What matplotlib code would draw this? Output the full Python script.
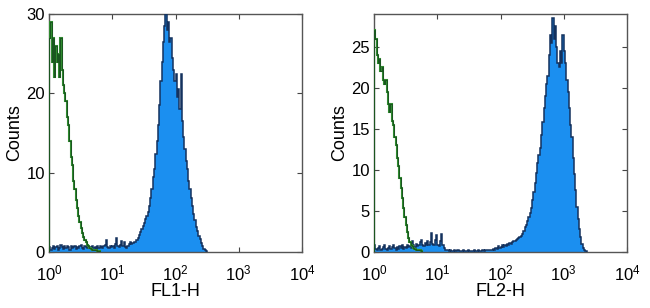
import numpy as np
import matplotlib
matplotlib.use("Agg")
import matplotlib.pyplot as plt
from matplotlib.ticker import LogFormatterSciNotation, NullLocator

plt.rcParams['font.family'] = ['Liberation Sans', 'DejaVu Sans']
plt.rcParams['mathtext.fontset'] = 'custom'
plt.rcParams['mathtext.rm'] = 'Liberation Sans'
plt.rcParams['mathtext.it'] = 'Liberation Sans'

# channel width in log10 units; every series starts at 10^0
log_step = 0.02

# ---- FL1-H panel ----
fl1_control = [27, 29, 24, 27, 22, 26, 24, 25, 22, 27,
               23, 21, 20, 19, 17, 16, 14, 12, 11, 9,
               8, 6.5, 5.5, 4.5, 3.8, 3.0, 2.4, 1.9, 1.5, 1.2,
               0.9, 0.7, 0.5, 0.4, 0.3, 0.3, 0.2, 0.2, 0.1, 0.1]
fl1_stained = [0.6, 0.3, 0.5, 0.8, 0.4, 0.6, 0.7, 0.3, 0.5, 0.9,
               0.6, 0.4, 0.7, 0.5, 0.8, 0.6, 0.3, 0.7, 0.5, 0.6,
               0.8, 0.4, 0.6, 0.5, 0.7, 0.9, 0.5, 0.4, 0.7, 0.6,
               0.5, 0.8, 0.6, 0.4, 0.7, 0.5, 0.6, 0.4, 0.7, 0.5,
               0.8, 0.6, 0.5,
               0.7, 0.9, 1.5, 0.6, 0.5, 0.8, 0.6, 0.7, 0.5, 1.0,
               1.8, 0.7, 0.6, 0.9, 1.4, 0.7, 1.2, 0.6, 0.5, 0.8,
               1.0, 1.2,
               1.0, 1.1, 1.2, 1.3, 1.5, 1.8, 2.1, 2.5, 2.9, 3.3,
               3.7, 4.1, 4.5, 5.0, 5.8, 6.8, 8.0, 9.4, 10.5, 12.3,
               14.0, 16.0, 18.5, 21.5, 24.0, 26.5, 28.5, 30.0, 28.0, 29.0,
               26.5, 27.0, 24.5, 23.0, 21.5, 22.5, 19.5, 20.5, 18.0, 22.5,
               16.5, 14.5, 13.0, 11.5, 10.5, 9.0, 8.0, 6.8, 5.8, 4.8,
               4.0, 3.2, 2.6, 2.0, 1.6, 1.1, 0.7, 0.4, 0.2, 0.1]

# ---- FL2-H panel ----
fl2_control = [27, 26, 24, 23, 23.5, 22, 22.5, 21, 20.5, 21,
               19.5, 18, 17, 18, 16, 15.5, 14, 13, 11.5, 10.5,
               9, 7.8, 6.6, 5.4, 4.3, 3.3, 2.4, 1.7, 1.2, 0.9,
               0.7, 0.5, 0.4, 0.3, 0.3, 0.2, 0.2, 0.1]
fl2_stained = [0.8, 0.4, 0.3, 0.5, 0.7, 0.3, 0.4, 0.6, 0.9, 0.4,
               0.3, 0.5, 0.7, 0.4, 0.6, 0.8, 0.5, 0.3, 0.6, 0.4,
               0.7, 0.5, 0.8, 0.4, 0.6, 0.5, 0.9, 0.6, 0.7, 0.5,
               1.4, 0.8, 0.6, 1.0, 0.7, 0.9, 1.2, 1.5, 0.8, 0.7,
               1.1, 0.9, 1.3, 0.8, 1.2, 2.3, 1.0, 0.8, 1.5, 2.1,
               0.9, 0.7, 1.3, 2.2, 0.8, 0.5, 0.3, 0.2,
               0.2, 0.1, 0.2, 0.1, 0.1, 0.2, 0.1, 0.1, 0.2, 0.1,
               0.1, 0.1, 0.2, 0.1, 0.1, 0.1, 0.2, 0.1, 0.1, 0.1,
               0.1, 0.2, 0.1, 0.1, 0.2, 0.1, 0.1, 0.2, 0.2, 0.1,
               0.2, 0.3, 0.2, 0.2, 0.3, 0.3, 0.4, 0.3,
               0.5, 0.4, 0.7, 0.5, 0.6, 0.8, 0.6, 0.9, 0.7, 1.0,
               0.8, 1.1, 1.0, 1.2,
               1.3, 1.4, 1.5, 1.6, 1.7, 1.8, 2.0, 2.2, 2.6, 3.0,
               3.3, 3.8, 4.3, 4.8, 5.4, 6.3, 7.3, 8.4, 9.6, 10.8,
               11.8, 12.7, 14.2, 15.8, 17.5, 19.0, 20.5, 21.5, 24.0, 26.5,
               25.5, 28.5, 26.0, 27.5, 25.0, 23.0, 22.5, 24.5, 23.0, 26.5,
               24.5, 23.0, 21.0, 19.5, 17.5, 15.5, 14.0, 11.5, 9.5, 7.5,
               5.5, 4.0, 2.8, 1.8, 1.0, 0.5, 0.2, 0.1]

panels = [
    ("FL1-H", fl1_control, fl1_stained, 30, [0, 10, 20, 30]),
    ("FL2-H", fl2_control, fl2_stained, 29, [0, 5, 10, 15, 20, 25]),
]
x_ticks = [1, 10, 100, 1000, 10000]

fill_color = '#1b8ff0'
edge_color = '#14325e'
ctrl_color = '#2f8a2f'

fig = plt.figure(figsize=(6.5, 3.08), dpi=100)
lefts = [49 / 650, 374 / 650]
for (xlabel, ctrl, stain, ymax, yticks), left in zip(panels, lefts):
    ax = fig.add_axes([left, 56 / 308, 253 / 650, 238 / 308])
    stain = np.asarray(stain, dtype=float)
    ctrl = np.asarray(ctrl, dtype=float)
    e_s = 10 ** (np.arange(len(stain) + 1) * log_step)
    e_c = 10 ** (np.arange(len(ctrl) + 1) * log_step)
    ax.stairs(stain, e_s, fill=True, color=fill_color, lw=0, zorder=2)
    ax.stairs(stain, e_s, color=edge_color, lw=1.1, zorder=3)
    ax.stairs(ctrl, e_c, color=ctrl_color, lw=1.5, zorder=4)
    ax.stairs(ctrl, e_c, color='#12401a', lw=0.5, zorder=5)
    ax.set_xscale('log')
    ax.set_xlim(1, 10000)
    ax.set_ylim(0, ymax)
    ax.set_xticks(x_ticks)
    ax.xaxis.set_major_formatter(LogFormatterSciNotation())
    ax.xaxis.set_minor_locator(NullLocator())
    ax.set_yticks(yticks)
    ax.tick_params(direction='in', top=True, right=True, length=3.5,
                   width=0.8, labelsize=12, color='#444444', pad=3)
    ax.tick_params(axis='x', pad=8)
    for s in ax.spines.values():
        s.set_color('#555555')
        s.set_linewidth(1.0)
    ax.set_xlabel(xlabel, fontsize=13, labelpad=0)
    ax.set_ylabel('Counts', fontsize=13, labelpad=2)

fig.savefig('out.png', dpi=100)
